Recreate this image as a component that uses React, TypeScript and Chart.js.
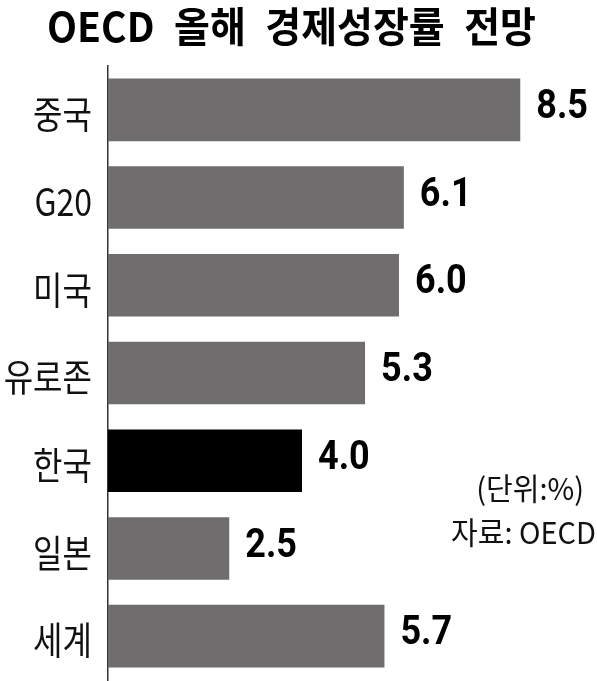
import React, { useEffect, useRef } from "react";
import { Chart, registerables } from "chart.js";

Chart.register(...registerables);

const categories = ["중국", "G20", "미국", "유로존", "한국", "일본", "세계"];
const values = [8.5, 6.1, 6.0, 5.3, 4.0, 2.5, 5.7];
const highlight = "한국";
const titleText = "OECD\u2002올해\u2002경제성장률\u2002전망";
const unitNote = "(단위:%)";
const sourceNote = "자료: OECD";

const GRAY = "#6f6d6e";
const BLACK = "#000000";

function drawScaled(
  ctx: CanvasRenderingContext2D,
  text: string,
  x: number,
  y: number,
  align: CanvasTextAlign,
  font: string,
  sy: number,
  color: string
) {
  ctx.save();
  ctx.translate(x, y);
  ctx.scale(1, sy);
  ctx.font = font;
  ctx.textAlign = align;
  ctx.textBaseline = "middle";
  ctx.fillStyle = color;
  ctx.fillText(text, 0, 0);
  ctx.restore();
}

const labelPlugin = {
  id: "labelPlugin",
  afterDraw(chart: any) {
    const ctx = chart.ctx as CanvasRenderingContext2D;
    const ys = chart.scales.y;
    const xs = chart.scales.x;
    // title
    drawScaled(ctx, titleText, chart.width / 2 - 7, 26, "center", 'bold 39px "Noto Sans CJK KR"', 1.05, "#000");
    categories.forEach((c, i) => {
      const py = ys.getPixelForValue(i);
      drawScaled(ctx, c, 92, py + 4, "right", '32px "Noto Sans CJK KR"', 1.18, "#111");
      const px = xs.getPixelForValue(values[i]);
      drawScaled(ctx, values[i].toFixed(1), px + 16, py - 2, "left", "bold 36px Roboto", 1.13, "#000");
    });
    drawScaled(ctx, unitNote, 584, 488, "right", '29px "Noto Sans CJK KR"', 1.05, "#111");
    drawScaled(ctx, sourceNote, 596, 532, "right", '29px "Noto Sans CJK KR"', 1.05, "#111");
  },
};

export default function App() {
  const ref = useRef<HTMLCanvasElement | null>(null);
  useEffect(() => {
    if (!ref.current) return;
    const chart = new Chart(ref.current, {
      type: "bar",
      data: {
        labels: categories,
        datasets: [
          {
            data: values,
            backgroundColor: categories.map((c) => (c === highlight ? BLACK : GRAY)),
            borderWidth: 0,
            categoryPercentage: 0.713,
            barPercentage: 1,
          },
        ],
      },
      options: {
        indexAxis: "y",
        responsive: false,
        animation: false,
        devicePixelRatio: 1,
        layout: { padding: { left: 108, right: 4, top: 66, bottom: 1 } },
        plugins: {
          legend: { display: false },
          title: { display: false },
          tooltip: { enabled: false },
        },
        scales: {
          x: { display: false, min: 0, max: 10 },
          y: {
            display: true,
            grid: { display: false, drawTicks: false },
            border: { display: true, color: "#333", width: 1.5 },
            ticks: { display: false },
          },
        },
      },
      plugins: [labelPlugin],
    });
    return () => chart.destroy();
  }, []);
  return (
    <div style={{ position: "absolute", left: 0, top: 0, width: 597, height: 681, background: "#fff" }}>
      <canvas ref={ref} width={597} height={681} style={{ display: "block", width: 597, height: 681 }} />
    </div>
  );
}
